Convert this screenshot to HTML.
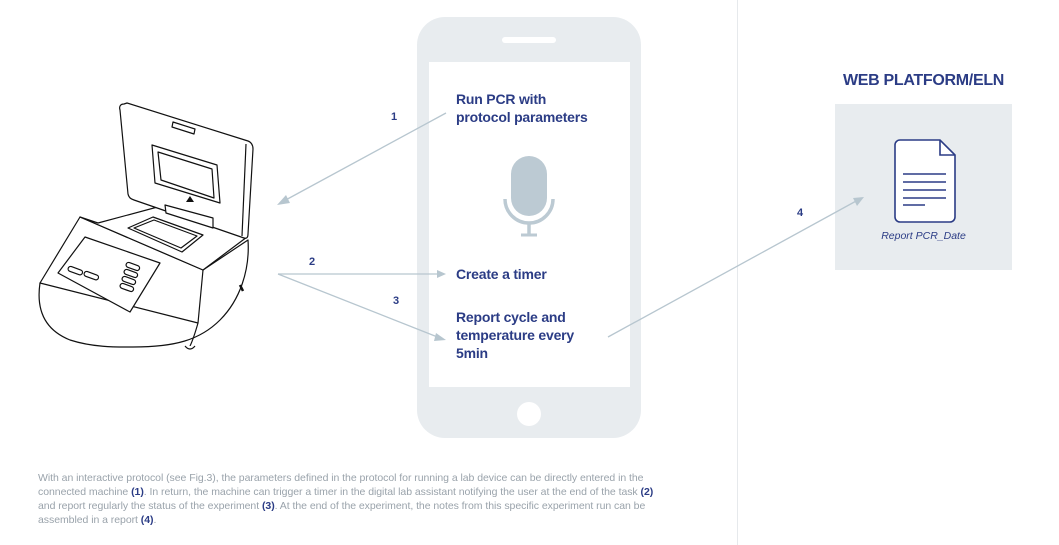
<!DOCTYPE html>
<html><head><style>
body{margin:0;width:1059px;height:545px;background:#fff;position:relative;overflow:hidden;font-family:"Liberation Sans",sans-serif}
.t{position:absolute;color:#2b3c85;font-weight:bold;font-size:14px;line-height:18px;letter-spacing:-0.2px}
.n{position:absolute;color:#2b3c85;font-weight:bold;font-size:11px}
.cap{position:absolute;left:38px;top:471px;white-space:nowrap;font-size:10.5px;line-height:14px;color:#9aa3ab;letter-spacing:-0.05px}
.cap b{color:#2b3c85}
</style></head><body>
<div style="position:absolute;left:737px;top:0;width:1px;height:545px;background:#e6e9ec"></div>
<svg width="1059" height="545" style="position:absolute;left:0;top:0">
<rect x="417" y="17" width="224" height="421" rx="28" fill="#e8ecef"/>
<rect x="429" y="62" width="201" height="325" fill="#fff"/>
<rect x="502" y="37" width="54" height="6" rx="3" fill="#fff"/>
<circle cx="529" cy="414" r="12" fill="#fff"/>
<rect x="511" y="156" width="36" height="60" rx="18" fill="#bccad3"/>
<path d="M505 199 a24 24 0 0 0 48 0" fill="none" stroke="#bccad3" stroke-width="3.5"/>
<line x1="529" y1="223" x2="529" y2="234" stroke="#bccad3" stroke-width="3.5"/>
<line x1="521" y1="235" x2="537" y2="235" stroke="#bccad3" stroke-width="3"/>
<rect x="835" y="104" width="177" height="166" fill="#e8ecef"/>
<path d="M900 140 h40 l15 15 v62 a5 5 0 0 1 -5 5 h-50 a5 5 0 0 1 -5 -5 v-72 a5 5 0 0 1 5 -5z" fill="#fff" stroke="#2b3c85" stroke-width="1.6"/>
<path d="M940 140 v15 h15" fill="none" stroke="#2b3c85" stroke-width="1.6"/>
<g stroke="#2b3c85" stroke-width="1.5"><line x1="903" y1="174" x2="946" y2="174"/><line x1="903" y1="182" x2="946" y2="182"/><line x1="903" y1="190" x2="946" y2="190"/><line x1="903" y1="198" x2="946" y2="198"/><line x1="903" y1="205" x2="925" y2="205"/></g>
<g stroke="#b7c6cf" stroke-width="1.3" fill="none">
<line x1="446" y1="113" x2="282" y2="202"/>
<line x1="278" y1="274" x2="440" y2="274"/>
<line x1="278" y1="274" x2="440" y2="338"/>
<line x1="608" y1="337" x2="858" y2="200"/>
</g>
<g fill="#b7c6cf">
<polygon points="277,205 286,195 290,203"/>
<polygon points="446,274 437,270 437,278"/>
<polygon points="446,340 436,333 434,341"/>
<polygon points="864,197 853,198 857,206"/>
</g>
<g fill="#fff" stroke="#111" stroke-width="1.2" stroke-linejoin="round">
<path d="M40 283 C36 310 45 330 70 340 C95 348 120 347 133 347 C175 347 200 340 220 320 C240 300 250 270 248 240 L203 270 Z"/>
<path d="M40 283 L198 323 L203 270 L80 217 Z"/>
<path d="M198 323 C196 330 193 340 190 346" fill="none"/>
<path d="M80 217 L98 223 L165 205 L213 218 L247 237 L203 270 Z"/>
<path d="M124 104 C120 104 119 107 120 110 L128 194 C129 198 131 199 134 200 L244 238 C247 239 248 237 248 234 L253 149 C253 145 251 142 248 141 L127 103 Z"/>
<path d="M246 144 L242 236" fill="none"/>
<path d="M152 145 L217 165 L220 203 L155 183 Z"/>
<path d="M158 152 L212 169 L214 198 L161 180 Z"/>
<path d="M173 122 L195 129 L194 134 L172 127 Z"/>
<path d="M165 205 L166 213 L213 228 L213 218 Z"/>
<path d="M128 228 L153 217 L203 235 L182 252 Z"/>
<path d="M134 228 L154 220 L197 236 L181 248 Z"/>
<path d="M58 273 L85 237 L160 263 L130 312 Z"/>
<rect x="68" y="268" width="15" height="5" rx="2.5" transform="rotate(20 75 270)"/>
<rect x="84" y="273" width="15" height="5" rx="2.5" transform="rotate(20 91 275)"/>
<rect x="126" y="264" width="14" height="5" rx="2.5" transform="rotate(20 133 266)"/>
<rect x="124" y="271" width="14" height="5" rx="2.5" transform="rotate(20 131 273)"/>
<rect x="122" y="278" width="14" height="5" rx="2.5" transform="rotate(20 129 280)"/>
<rect x="120" y="285" width="14" height="5" rx="2.5" transform="rotate(20 127 287)"/>
</g>
<polygon points="186,202 190,196 194,202" fill="#111"/>
<path d="M240 285 l3 6" stroke="#111" stroke-width="2.5"/>
<path d="M185 346 q5 6 10 0" stroke="#111" stroke-width="1.2" fill="#fff"/>
</svg>
<div class="t" style="left:456px;top:90px">Run PCR with<br>protocol parameters</div>
<div class="t" style="left:456px;top:265px">Create a timer</div>
<div class="t" style="left:456px;top:308px">Report cycle and<br>temperature every<br>5min</div>
<div class="n" style="left:391px;top:111px">1</div>
<div class="n" style="left:309px;top:256px">2</div>
<div class="n" style="left:393px;top:295px">3</div>
<div class="n" style="left:797px;top:207px">4</div>
<div style="position:absolute;left:835px;top:72px;width:177px;text-align:center;font-weight:bold;font-size:16px;color:#2b3c85;letter-spacing:-0.3px">WEB PLATFORM/ELN</div>
<div style="position:absolute;left:835px;top:230px;width:177px;text-align:center;font-style:italic;font-size:10.5px;color:#2b3c85">Report PCR_Date</div>
<div class="cap">With an interactive protocol (see Fig.3), the parameters defined in the protocol for running a lab device can be directly entered in the<br>connected machine <b>(1)</b>. In return, the machine can trigger a timer in the digital lab assistant notifying the user at the end of the task <b>(2)</b><br>and report regularly the status of the experiment <b>(3)</b>. At the end of the experiment, the notes from this specific experiment run can be<br>assembled in a report <b>(4)</b>.</div>
</body></html>
